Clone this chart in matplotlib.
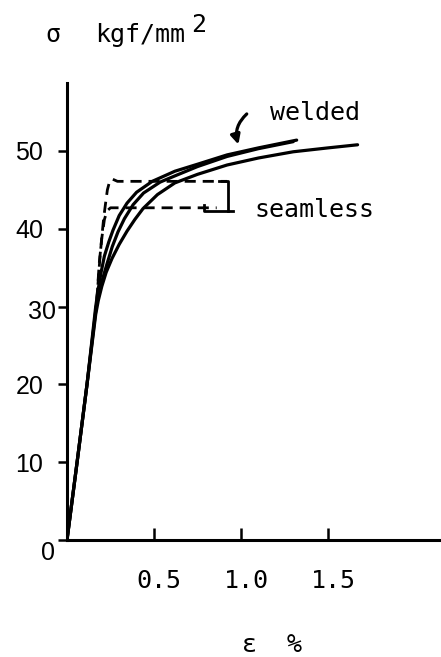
import matplotlib
matplotlib.use("Agg")
import matplotlib.pyplot as plt
from matplotlib.transforms import ScaledTranslation

# ---- data ----
# welded specimens (solid)
w1_strain = [0, 0.058, 0.115, 0.165, 0.18, 0.195, 0.215, 0.24, 0.264, 0.3, 0.345, 0.4, 0.49, 0.62, 0.75, 0.92, 1.1, 1.32]
w1_stress = [0, 10, 20, 30, 32.3, 34.3, 36.5, 38.3, 39.8, 41.7, 43.3, 44.7, 46.1, 47.4, 48.3, 49.5, 50.4, 51.4]
w2_strain = [0, 0.058, 0.115, 0.168, 0.185, 0.2, 0.23, 0.26, 0.293, 0.33, 0.38, 0.44, 0.535, 0.62, 0.75, 0.92, 1.1, 1.30]
w2_stress = [0, 10, 20, 30, 31.8, 33.2, 35.5, 37.7, 39.6, 41.3, 43.1, 44.6, 46.0, 46.8, 48.0, 49.3, 50.3, 51.2]
w3_strain = [0, 0.058, 0.115, 0.165, 0.18, 0.2, 0.225, 0.259, 0.3, 0.345, 0.39, 0.437, 0.52, 0.62, 0.75, 0.92, 1.1, 1.30, 1.5, 1.67]
w3_stress = [0, 10, 20, 29, 30.8, 32.6, 34.4, 36.2, 38.0, 39.7, 41.2, 42.6, 44.4, 45.9, 47.0, 48.2, 49.1, 49.9, 50.4, 50.8]
# seamless specimens (dashed)
s1_strain = [0.17, 0.18, 0.19, 0.2, 0.21, 0.22, 0.232, 0.245, 0.26, 0.29, 0.4, 0.6, 0.8, 0.92]
s1_stress = [30.5, 33.5, 36.5, 38.9, 41.2, 43.0, 45.0, 46.1, 46.4, 46.1, 46.1, 46.1, 46.1, 46.1]
s2_strain = [0.172, 0.185, 0.2, 0.215, 0.23, 0.25, 0.3, 0.5, 0.7, 0.86]
s2_stress = [31, 35.5, 38.8, 41.2, 42.3, 42.7, 42.7, 42.7, 42.7, 42.7]

x_ticks = [0.5, 1.0, 1.5]
x_ticklabels = ["0.5", "1.0", "1.5"]
y_ticks = [0, 10, 20, 30, 40, 50]
y_ticklabels = ["0", "10", "20", "30", "40", "50"]

W, H = 441, 657
fig = plt.figure(figsize=(W / 100, H / 100), dpi=100)
ax = fig.add_axes([67 / W, 117 / H, 374 / W, 457 / H])
ax.set_xlim(0, 374 / 174)
ax.set_ylim(0, 457 / 7.78)

mono = "DejaVu Sans Mono"
sans = "Liberation Sans"

lw = 2.3
for xs, ys in [(w1_strain, w1_stress), (w2_strain, w2_stress), (w3_strain, w3_stress)]:
    ax.plot(xs, ys, color="black", lw=lw, solid_capstyle="round", solid_joinstyle="round", zorder=3)
for xs, ys in [(s1_strain, s1_stress), (s2_strain, s2_stress)]:
    ax.plot(xs, ys, color="black", lw=2.0, linestyle=(0, (4, 2.5)), zorder=2)

# bracket grouping the seamless curves
bx = s1_strain[-1] + 0.005
by_top = s1_stress[-1]
by_bot = s2_stress[-1] - 0.4
ax.plot([bx - 0.05, bx, bx], [by_top, by_top, by_bot], color="black", lw=2.0, zorder=3)
ax.plot([s2_strain[-1] - 0.07, s2_strain[-1] - 0.07, bx + 0.03],
        [by_bot + 0.8, by_bot, by_bot], color="black", lw=2.0, zorder=3)

# welded arrow
ax.annotate("", xy=(0.99, 50.5), xytext=(1.045, 55.0),
            arrowprops=dict(arrowstyle="-|>", connectionstyle="arc3,rad=0.35",
                            lw=2.3, color="black", mutation_scale=14))

ax.text(1.167, 54.0, "welded", fontsize=18, family=mono, ha="left", va="baseline")
ax.text(1.08, 41.5, "seamless", fontsize=18, family=mono, ha="left", va="baseline")

for s in ["top", "right"]:
    ax.spines[s].set_visible(False)
for s in ["left", "bottom"]:
    ax.spines[s].set_linewidth(2.2)

ax.set_xticks(x_ticks)
ax.set_xticklabels(x_ticklabels, family=mono, fontsize=18)
ax.set_yticks(y_ticks)
ax.set_yticklabels(y_ticklabels, family=sans, fontsize=18)
ax.tick_params(axis="x", direction="in", length=8.6, width=1.8, pad=21)
ax.tick_params(axis="y", direction="out", length=6.5, width=1.8, pad=10.5)

for lab in ax.get_xticklabels():
    lab.set_transform(lab.get_transform() + ScaledTranslation(5 / 100, 0, fig.dpi_scale_trans))
ylabs = ax.get_yticklabels()
ylabs[0].set_transform(ylabs[0].get_transform() + ScaledTranslation(12 / 100, -10 / 100, fig.dpi_scale_trans))
ylabs[3].set_transform(ylabs[3].get_transform() + ScaledTranslation(13 / 100, -3 / 100, fig.dpi_scale_trans))

fig.text(53 / W, 1 - 42 / H, "σ", fontsize=18, family=mono, ha="center", va="baseline")
fig.text(95 / W, 1 - 42 / H, "kgf/mm", fontsize=18, family=mono, ha="left", va="baseline")
fig.text(191 / W, 1 - 32 / H, "2", fontsize=18, family=mono, ha="left", va="baseline")
fig.text(272 / W, 1 - 652 / H, "ε  %", fontsize=18, family=mono, ha="center", va="baseline")

fig.savefig("out.png", dpi=100)
